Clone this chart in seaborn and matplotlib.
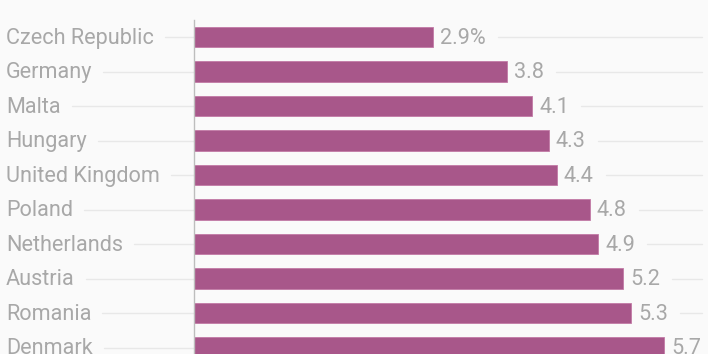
import numpy as np
import pandas as pd
import matplotlib
matplotlib.use('Agg')
import matplotlib.pyplot as plt
import matplotlib.transforms as mtransforms
import seaborn as sns

countries = ['Czech Republic', 'Germany', 'Malta', 'Hungary', 'United Kingdom',
             'Poland', 'Netherlands', 'Austria', 'Romania', 'Denmark']
rates = [2.9, 3.8, 4.1, 4.3, 4.4, 4.8, 4.9, 5.2, 5.3, 5.7]
value_labels = ['2.9%', '3.8', '4.1', '4.3', '4.4', '4.8', '4.9', '5.2', '5.3', '5.7']

df = pd.DataFrame({'country': countries, 'rate': rates})

sns.set_theme(style='white')
plt.rcParams['font.family'] = ['Roboto', 'DejaVu Sans']

bg = '#fafafa'
bar_color = '#a8578a'
text_color = '#a8a8a8'
grid_color = '#e8e8e8'

W, H = 708, 354
fig = plt.figure(figsize=(W/100, H/100), dpi=100, facecolor=bg)
x0 = 194
ax = fig.add_axes([x0/W, 0, 1 - x0/W, 1])
ax.set_facecolor(bg)

sns.barplot(data=df, x='rate', y='country', orient='h', color=bar_color,
            saturation=1, width=0.58, ax=ax, edgecolor='#c27aa6', linewidth=0.6)

px_per_unit = 82.5
ax.set_xlim(0, (W - x0)/px_per_unit)
step = 34.5
top = 37
ax.set_ylim((H - top)/step, -top/step)

for s in ['top', 'right', 'bottom']:
    ax.spines[s].set_visible(False)
ax.spines['left'].set_color('#bdbdbd')
ax.spines['left'].set_linewidth(1)
ax.spines['left'].set_bounds(-0.49, (H - top)/step)
ax.set_xticks([])
ax.set_yticks([])
ax.set_xlabel('')
ax.set_ylabel('')

fs = 15.6
trans = mtransforms.blended_transform_factory(ax.transAxes, ax.transData)
lab_x = (6 - x0)/(W - x0)
name_texts = []
for i, c in enumerate(countries):
    t = ax.text(lab_x, i + 0.04, c, transform=trans, ha='left', va='center',
                fontsize=fs, color=text_color, clip_on=False)
    name_texts.append(t)

val_texts = []
for i, (v, l) in enumerate(zip(rates, value_labels)):
    t = ax.text(v + 7/px_per_unit, i + 0.04, l, ha='left', va='center',
                fontsize=fs, color=text_color)
    val_texts.append(t)

fig.canvas.draw()
r = fig.canvas.get_renderer()
inv = ax.transAxes.inverted()
for i, t in enumerate(name_texts):
    bb = t.get_window_extent(r)
    xa = inv.transform((bb.x1 + 11, 0))[0]
    ax.plot([xa, 0], [i, i], transform=trans, color=grid_color, lw=1,
            clip_on=False, zorder=0)
for i, t in enumerate(val_texts):
    bb = t.get_window_extent(r)
    xa = inv.transform((bb.x1 + 12, 0))[0]
    xe = inv.transform((702 * 1.0, 0))[0]
    if xa < xe:
        ax.plot([xa, xe], [i, i], transform=trans, color=grid_color, lw=1,
                clip_on=False, zorder=0)

fig.savefig('out.png', dpi=100, facecolor=bg)
